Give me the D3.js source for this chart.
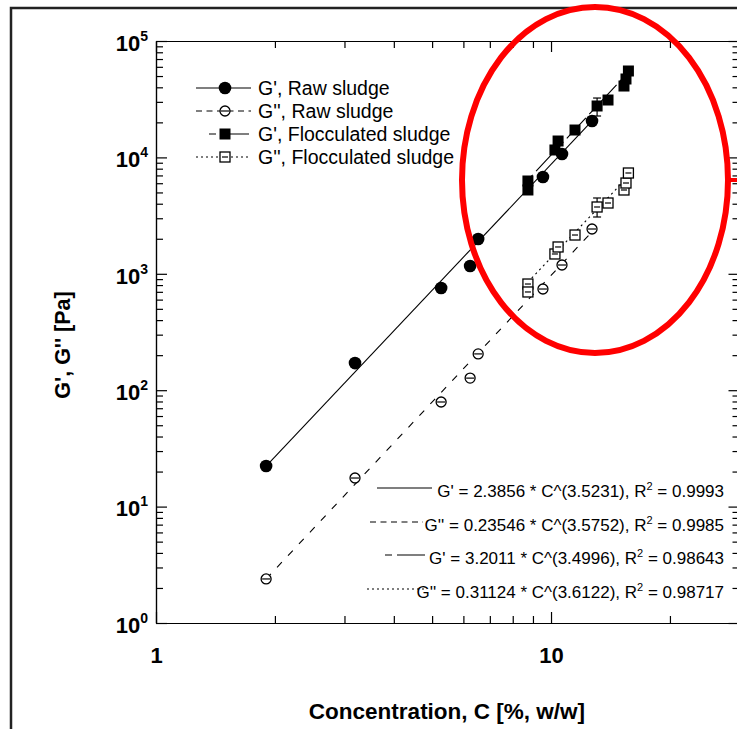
<!DOCTYPE html>
<html>
<head>
<meta charset="utf-8">
<script src="https://cdn.jsdelivr.net/npm/d3@7"></script>
<style>
body { margin: 0; background: #fff; }
svg { display: block; font-family: "Liberation Sans", Arial, Helvetica, sans-serif; }
</style>
</head>
<body>
<div id="chart"></div>
<script>
// dados (C em %, G em Pa)
const concRaw = [1.9, 3.19, 5.27, 6.24, 6.54, 9.54, 10.66, 12.7];
const gPrimeRaw = [22.3, 171, 755, 1167, 1991, 6788, 10700, 20550];
const gDoubleRaw = [2.39, 17.6, 79.2, 127, 205, 740, 1190, 2426];

const concFloc = [8.74, 8.74, 10.23, 10.42, 11.5, 13.08, 13.94, 15.3, 15.48, 15.7];
const gPrimeFloc = [6270, 5248, 11580, 13830, 17190, 27650, 31120, 41040, 47160, 55240];
const gDoubleFloc = [817, 698, 1480, 1700, 2154, 3749, 4057, 5248, 6026, 7345];

// barras de erro [baixo, alto] (null = sem barra)
const errPrimeFloc = [null, null, null, null, null, [22680, 32360], null, null, null, null];
const errDoubleFloc = [null, null, null, null, null, [3076, 4480], null, null, null, null];

// retas de ajuste: pontos extremos
const fitPrimeRaw = [[1.9, 22.3], [12.7, 20550]];
const fitDoubleRaw = [[1.9, 2.39], [12.7, 2300]];
const fitPrimeFloc = [[8.74, 6400], [15.7, 54000]];
const fitDoubleFloc = [[8.74, 850], [15.7, 6900]];

const seriesNames = ["G', Raw sludge", "G'', Raw sludge", "G', Flocculated sludge", "G'', Flocculated sludge"];
const fitLabels = [
  ["G' = 2.3856 * C^(3.5231), R", "2", " = 0.9993"],
  ["G'' = 0.23546 * C^(3.5752), R", "2", " = 0.9985"],
  ["G' = 3.2011 * C^(3.4996), R", "2", " = 0.98643"],
  ["G'' = 0.31124 * C^(3.6122), R", "2", " = 0.98717"]
];

const xMajor = [1, 10];
const xMinor = [2, 3, 4, 5, 6, 7, 8, 9, 20];
const yMajor = [1, 10, 100, 1000, 10000, 100000];
const yExp = ["0", "1", "2", "3", "4", "5"];
const yMinor = [];
yMajor.slice(0, -1).forEach(d => { for (let k = 2; k <= 9; k++) yMinor.push(d * k); });

const W = 737, H = 729;
const svg = d3.select("#chart").append("svg")
  .attr("width", W)
  .attr("height", H);

// moldura da página
svg.append("rect")
  .attr("x", 11).attr("y", 8)
  .attr("width", 800).attr("height", 800)
  .attr("fill", "none")
  .attr("stroke", "#222")
  .attr("stroke-width", 2.5);

const x = d3.scaleLog().domain([1, 30]).range([156, 739.5]);
const y = d3.scaleLog().domain([1, 1e5]).range([623, 41]);

function styleAxis(g) {
  g.attr("font-family", null).attr("font-size", 22).attr("font-weight", "bold");
  g.selectAll("path, line").attr("stroke", "#000").attr("stroke-width", 1.2);
  g.selectAll("text").attr("fill", "#000");
}

// eixo inferior
svg.append("g").attr("transform", "translate(0,623)")
  .call(d3.axisBottom(x).tickValues(xMinor).tickSize(-7).tickSizeOuter(0).tickFormat(""))
  .call(styleAxis);
svg.append("g").attr("transform", "translate(0,623)")
  .call(d3.axisBottom(x).tickValues(xMajor).tickSize(-11).tickSizeOuter(0).tickPadding(24).tickFormat(d3.format("d")))
  .call(styleAxis);

// eixo superior
svg.append("g").attr("transform", "translate(0,41)")
  .call(d3.axisTop(x).tickValues(xMinor).tickSize(-7).tickSizeOuter(0).tickFormat(""))
  .call(styleAxis);
svg.append("g").attr("transform", "translate(0,41)")
  .call(d3.axisTop(x).tickValues(xMajor).tickSize(-11).tickSizeOuter(0).tickFormat(""))
  .call(styleAxis);

// eixo esquerdo
svg.append("g").attr("transform", "translate(156,0)")
  .call(d3.axisLeft(y).tickValues(yMinor).tickSize(-7).tickSizeOuter(0).tickFormat(""))
  .call(styleAxis);
const yAxis = svg.append("g").attr("transform", "translate(156,0)")
  .call(d3.axisLeft(y).tickValues(yMajor).tickSize(-11).tickSizeOuter(0).tickPadding(8).tickFormat(""))
  .call(styleAxis);
yAxis.selectAll(".tick text").each(function(d, i) {
  const t = d3.select(this).attr("dy", "0.42em");
  t.append("tspan").text("10");
  t.append("tspan").attr("dy", -10).attr("font-size", 14).text(yExp[i]);
});

// eixo direito
svg.append("g").attr("transform", "translate(739.5,0)")
  .call(d3.axisRight(y).tickValues(yMinor).tickSize(-7).tickSizeOuter(0).tickFormat(""))
  .call(styleAxis);
svg.append("g").attr("transform", "translate(739.5,0)")
  .call(d3.axisRight(y).tickValues(yMajor).tickSize(-11).tickSizeOuter(0).tickFormat(""))
  .call(styleAxis);

// títulos dos eixos
svg.append("text")
  .attr("x", 447).attr("y", 719)
  .attr("text-anchor", "middle")
  .attr("font-size", 22.5).attr("font-weight", "bold")
  .text("Concentration, C [%, w/w]");
svg.append("text")
  .attr("transform", "translate(70,345) rotate(-90)")
  .attr("text-anchor", "middle")
  .attr("font-size", 21.5).attr("font-weight", "bold")
  .text("G', G'' [Pa]");

// estilos das linhas
const lineStyles = [
  { dash: null, legendDash: null },
  { dash: "7,9", legendDash: "6,4.5" },
  { dash: "7,5,28,5", legendDash: "7,5,28,5" },
  { dash: "2,3.5", legendDash: "2,3" }
];

const line = d3.line().x(d => x(d[0])).y(d => y(d[1]));
[fitPrimeRaw, fitDoubleRaw, fitPrimeFloc, fitDoubleFloc].forEach((f, i) => {
  svg.append("path")
    .attr("d", line(f))
    .attr("fill", "none")
    .attr("stroke", "#000")
    .attr("stroke-width", 1.1)
    .attr("stroke-dasharray", lineStyles[i].dash);
});

// marcadores
function drawMarker(g, type, cx, cy) {
  if (type === 0) {
    g.append("circle").attr("cx", cx).attr("cy", cy).attr("r", 6.3).attr("fill", "#000");
  } else if (type === 1) {
    g.append("circle").attr("cx", cx).attr("cy", cy).attr("r", 5)
      .attr("fill", "#fff").attr("stroke", "#000").attr("stroke-width", 1.3);
    g.append("line").attr("x1", cx - 4).attr("x2", cx + 4).attr("y1", cy).attr("y2", cy)
      .attr("stroke", "#000").attr("stroke-width", 1.2);
  } else if (type === 2) {
    g.append("rect").attr("x", cx - 5.5).attr("y", cy - 5.5).attr("width", 11).attr("height", 11)
      .attr("fill", "#000");
  } else {
    g.append("rect").attr("x", cx - 5).attr("y", cy - 5).attr("width", 10).attr("height", 10)
      .attr("fill", "#fff").attr("stroke", "#000").attr("stroke-width", 1.3);
    g.append("line").attr("x1", cx - 3).attr("x2", cx + 3).attr("y1", cy).attr("y2", cy)
      .attr("stroke", "#000").attr("stroke-width", 1.2);
  }
}

function drawErrors(g, conc, err) {
  conc.forEach((c, i) => {
    if (!err[i]) return;
    const cx = x(c), y0 = y(err[i][0]), y1 = y(err[i][1]);
    g.append("line").attr("x1", cx).attr("x2", cx).attr("y1", y0).attr("y2", y1)
      .attr("stroke", "#000").attr("stroke-width", 1.2);
    [y0, y1].forEach(v => g.append("line").attr("x1", cx - 4).attr("x2", cx + 4)
      .attr("y1", v).attr("y2", v).attr("stroke", "#000").attr("stroke-width", 1.2));
  });
}

const marks = svg.append("g");
drawErrors(marks, concFloc, errPrimeFloc);
drawErrors(marks, concFloc, errDoubleFloc);
concRaw.forEach((c, i) => drawMarker(marks, 0, x(c), y(gPrimeRaw[i])));
concRaw.forEach((c, i) => drawMarker(marks, 1, x(c), y(gDoubleRaw[i])));
concFloc.forEach((c, i) => drawMarker(marks, 2, x(c), y(gPrimeFloc[i])));
concFloc.forEach((c, i) => drawMarker(marks, 3, x(c), y(gDoubleFloc[i])));

// legenda das séries
const legRows = [88, 111, 134, 157];
const leg = svg.append("g");
seriesNames.forEach((name, i) => {
  const ly = legRows[i];
  const x1 = i === 2 ? 209 : 196;
  const x2 = i === 2 ? 249 : 251;
  leg.append("line").attr("x1", x1).attr("x2", x2).attr("y1", ly).attr("y2", ly)
    .attr("stroke", "#000").attr("stroke-width", 1.1)
    .attr("stroke-dasharray", lineStyles[i].legendDash);
  drawMarker(leg, i, 225, ly);
  leg.append("text").attr("x", 258).attr("y", ly).attr("dy", "0.36em")
    .attr("font-size", 19.5).text(name);
});

// legenda das equações
const eqRows = [491, 525, 558, 592];
const eqLine = [[377, 432], [370, 423], [385, 425], [367, 425]];
fitLabels.forEach((parts, i) => {
  const ly = eqRows[i];
  svg.append("line").attr("x1", eqLine[i][0]).attr("x2", eqLine[i][1])
    .attr("y1", ly - 3).attr("y2", ly - 3)
    .attr("stroke", "#000").attr("stroke-width", 1.1)
    .attr("stroke-dasharray", lineStyles[i].legendDash);
  const t = svg.append("text").attr("x", 724).attr("y", ly).attr("dy", "0.36em")
    .attr("text-anchor", "end").attr("font-size", 17);
  t.append("tspan").text(parts[0]);
  t.append("tspan").attr("dy", -7).attr("font-size", 11).text(parts[1]);
  t.append("tspan").attr("dy", 7).text(parts[2]);
});

// destaque em vermelho
svg.append("ellipse")
  .attr("cx", 595).attr("cy", 180)
  .attr("rx", 133).attr("ry", 173)
  .attr("fill", "none")
  .attr("stroke", "#ff0000")
  .attr("stroke-width", 6);
svg.append("line")
  .attr("x1", 728).attr("x2", 760).attr("y1", 180).attr("y2", 180)
  .attr("stroke", "#ff0000").attr("stroke-width", 4);
</script>
</body>
</html>
